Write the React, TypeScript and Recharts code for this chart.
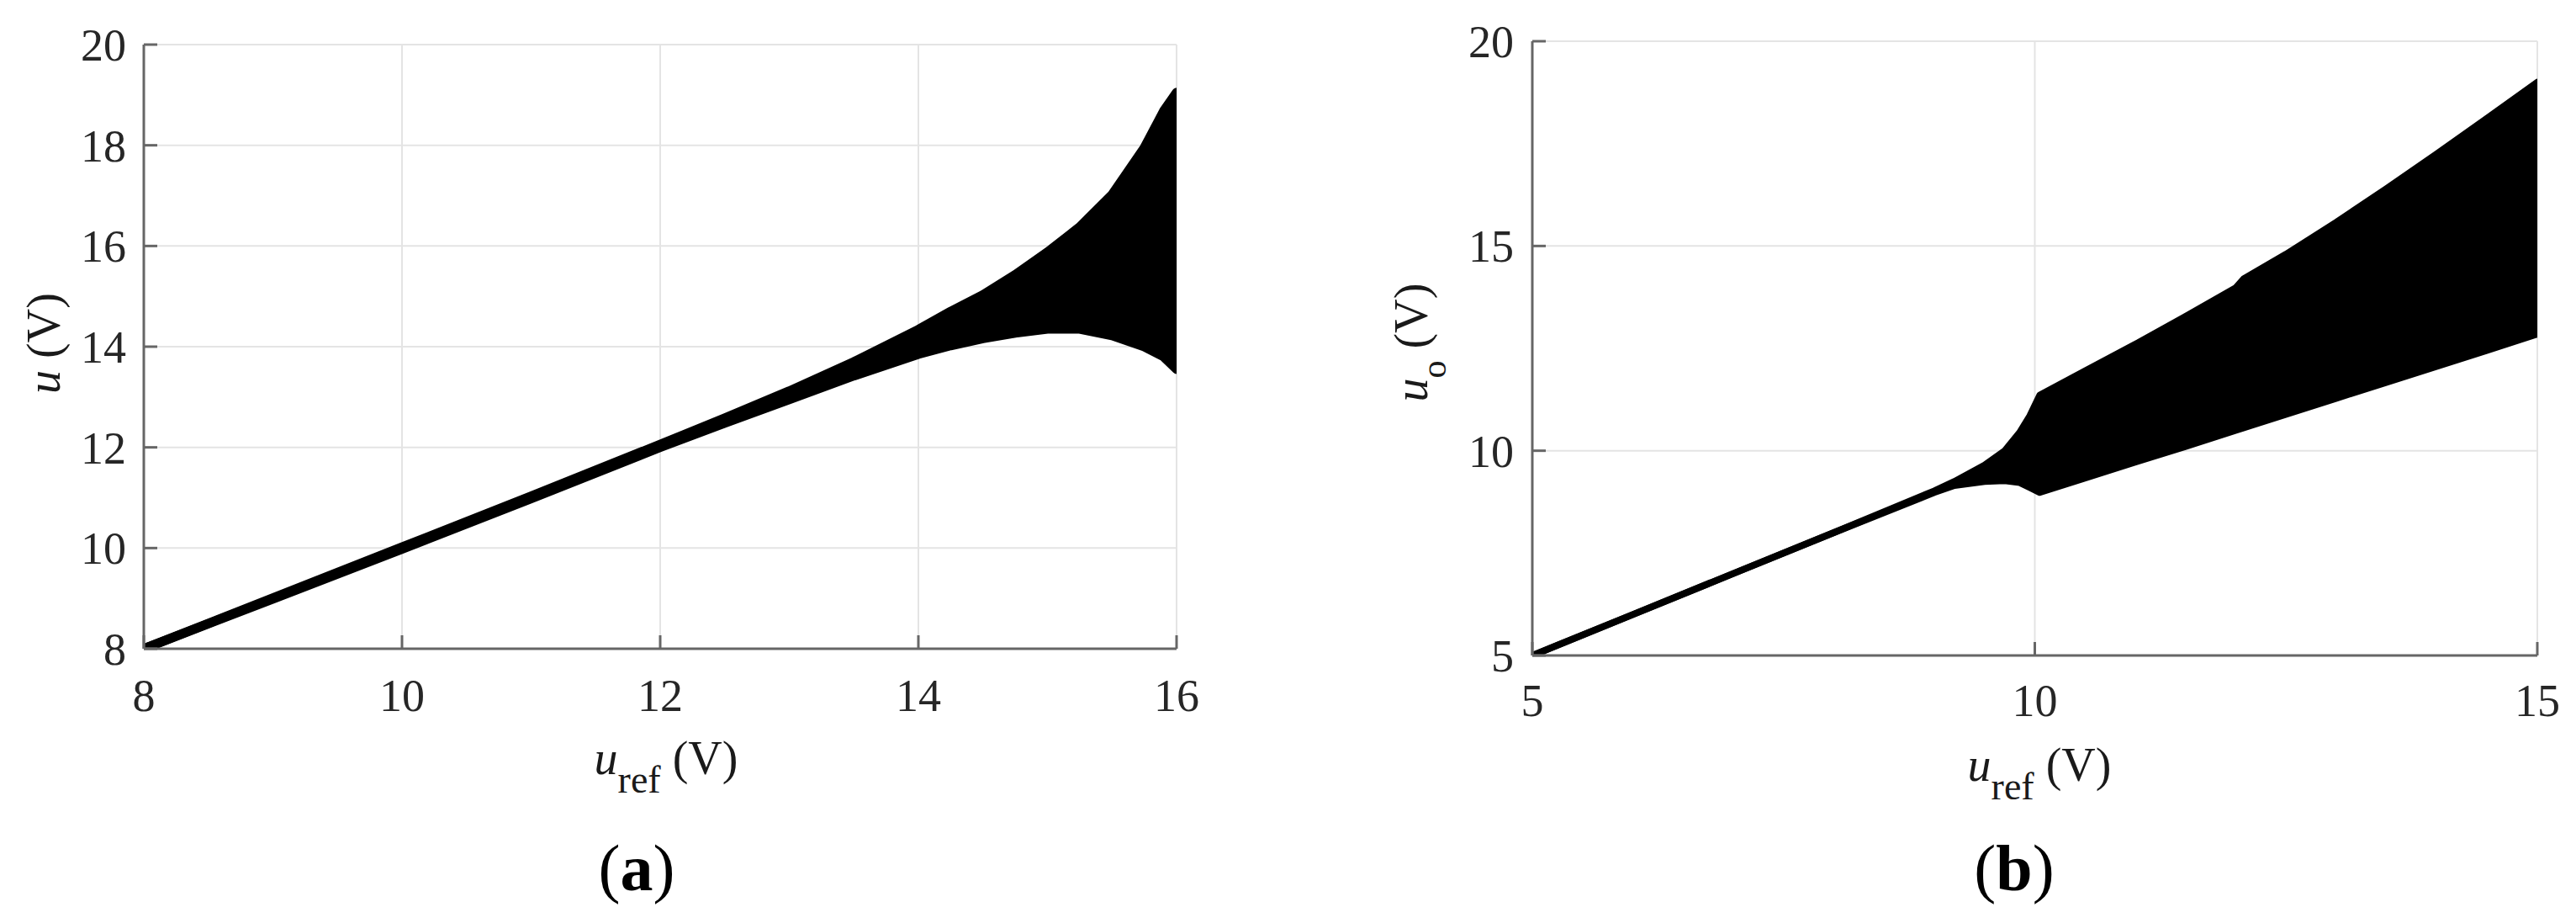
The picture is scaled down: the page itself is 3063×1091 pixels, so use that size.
import React from 'react';
import { ComposedChart, Area, XAxis, YAxis, CartesianGrid } from 'recharts';

const FONT = "'Liberation Serif', 'Times New Roman', serif";

// ---------- Panel (a): u vs u_ref ----------
const refA = [8, 9, 10, 11, 12, 12.5, 13, 13.5, 14, 14.25, 14.5, 14.75, 15, 15.25, 15.5, 15.75, 15.9, 16];
const upperA = [8, 9.01, 10.02, 11.03, 12.06, 12.58, 13.12, 13.7, 14.34, 14.7, 15.03, 15.43, 15.88, 16.38, 17.02, 17.95, 18.68, 19.05];
const lowerA = [8, 8.99, 9.98, 10.98, 12.0, 12.48, 12.95, 13.42, 13.85, 14.02, 14.16, 14.27, 14.35, 14.35, 14.22, 14.0, 13.8, 13.55];
const xTicksA = [8, 10, 12, 14, 16];
const yTicksA = [8, 10, 12, 14, 16, 18, 20];

// ---------- Panel (b): u_o vs u_ref ----------
const refB = [5, 6, 7, 8, 9, 9.2, 9.5, 9.7, 9.85, 9.95, 10.05, 10.5, 11, 11.5, 12, 12.08, 12.5, 13, 13.5, 14, 14.5, 15];
const upperB = [5, 6, 7, 8, 9.02, 9.25, 9.65, 10.0, 10.45, 10.85, 11.36, 11.95, 12.6, 13.28, 13.98, 14.2, 14.8, 15.58, 16.4, 17.25, 18.12, 19.0];
const lowerB = [5, 6, 7, 8, 8.98, 9.15, 9.25, 9.27, 9.22, 9.1, 8.98, 9.33, 9.72, 10.1, 10.5, 10.56, 10.89, 11.28, 11.67, 12.06, 12.45, 12.85];
const xTicksB = [5, 10, 15];
const yTicksB = [5, 10, 15, 20];

const dataA = refA.map((x, i) => ({ x, band: [lowerA[i], upperA[i]] }));
const dataB = refB.map((x, i) => ({ x, band: [lowerB[i], upperB[i]] }));

const AXIS = { stroke: '#666', strokeWidth: 3 };

function TickLabel(props: any) {
  const { x, y, payload, textAnchor, orientation } = props;
  const dy = orientation === 'bottom' ? 38 : 19;
  return (
    <text x={x} y={y} dy={dy} textAnchor={textAnchor} fill="#262626" fontSize={54} fontFamily={FONT}>
      {payload.value}
    </text>
  );
}

type PanelProps = {
  data: any[];
  xDomain: [number, number];
  yDomain: [number, number];
  xTicks: number[];
  yTicks: number[];
  width: number;
  height: number;
  margin: { top: number; right: number; bottom: number; left: number };
  yAxisWidth: number;
  xAxisHeight: number;
  xTickMargin: number;
  yTickMargin: number;
  bandStroke: number;
};

function Panel(p: PanelProps) {
  return (
    <ComposedChart width={p.width} height={p.height} data={p.data} margin={p.margin}>
      <CartesianGrid stroke="#e4e4e4" strokeWidth={2} />
      <XAxis
        dataKey="x"
        type="number"
        domain={p.xDomain}
        ticks={p.xTicks}
        interval={0}
        height={p.xAxisHeight}
        tickSize={-16}
        tickMargin={p.xTickMargin}
        tick={<TickLabel orientation="bottom" />}
        axisLine={AXIS}
        tickLine={AXIS}
        allowDataOverflow
      />
      <YAxis
        type="number"
        domain={p.yDomain}
        ticks={p.yTicks}
        interval={0}
        width={p.yAxisWidth}
        tickSize={-16}
        tickMargin={p.yTickMargin}
        tick={<TickLabel orientation="left" />}
        axisLine={AXIS}
        tickLine={AXIS}
        allowDataOverflow
      />
      <XAxis
        xAxisId="top"
        orientation="top"
        type="number"
        domain={p.xDomain}
        ticks={p.xTicks}
        interval={0}
        height={0}
        tickSize={-16}
        tick={false}
        axisLine={AXIS}
        tickLine={AXIS}
      />
      <YAxis
        yAxisId="right"
        orientation="right"
        type="number"
        domain={p.yDomain}
        ticks={p.yTicks}
        interval={0}
        width={0}
        tickSize={-16}
        tick={false}
        axisLine={AXIS}
        tickLine={AXIS}
      />
      <Area
        dataKey="band"
        type="linear"
        fill="#000"
        fillOpacity={1}
        stroke="#000"
        strokeWidth={p.bandStroke}
        strokeLinejoin="round"
        strokeLinecap="round"
        dot={false}
        activeDot={false}
        isAnimationActive={false}
      />
    </ComposedChart>
  );
}

export default function App() {
  return (
    <div style={{ position: 'absolute', left: 0, top: 0, width: 3063, height: 1091, background: '#fff', overflow: 'hidden', fontFamily: FONT }}>
      <div style={{ position: 'absolute', left: 0, top: 0 }}>
        <Panel
          data={dataA}
          xDomain={[8, 16]}
          yDomain={[8, 20]}
          xTicks={xTicksA}
          yTicks={yTicksA}
          width={1450}
          height={1091}
          margin={{ top: 53, right: 51, bottom: 0, left: 0 }}
          yAxisWidth={171}
          xAxisHeight={320}
          xTickMargin={52}
          yTickMargin={37}
          bandStroke={11}
        />
      </div>
      <div style={{ position: 'absolute', left: 1500, top: 0 }}>
        <Panel
          data={dataB}
          xDomain={[5, 15]}
          yDomain={[5, 20]}
          xTicks={xTicksB}
          yTicks={yTicksB}
          width={1563}
          height={1091}
          margin={{ top: 49, right: 46, bottom: 0, left: 0 }}
          yAxisWidth={322}
          xAxisHeight={312}
          xTickMargin={50}
          yTickMargin={38}
          bandStroke={8}
        />
      </div>
      <svg
        width={3063}
        height={1091}
        style={{ position: 'absolute', left: 0, top: 0, pointerEvents: 'none' }}
        fontFamily={FONT}
      >
        {/* y-axis titles */}
        <text x={71} y={408} transform="rotate(-90, 71, 408)" textAnchor="middle" fontSize={56} fill="#1a1a1a">
          <tspan fontStyle="italic">u</tspan>
          <tspan> (V)</tspan>
        </text>
        <text x={1697} y={407} transform="rotate(-90, 1697, 407)" textAnchor="middle" fontSize={56} fill="#1a1a1a">
          <tspan fontStyle="italic">u</tspan>
          <tspan fontSize={42} dy={22}>o</tspan>
          <tspan dy={-22}> (V)</tspan>
        </text>
        {/* x-axis titles */}
        <text x={792} y={920} textAnchor="middle" fontSize={56} fill="#1a1a1a">
          <tspan fontStyle="italic">u</tspan>
          <tspan fontSize={46} dy={22}>ref</tspan>
          <tspan dy={-22}> (V)</tspan>
        </text>
        <text x={2425} y={928} textAnchor="middle" fontSize={56} fill="#1a1a1a">
          <tspan fontStyle="italic">u</tspan>
          <tspan fontSize={46} dy={22}>ref</tspan>
          <tspan dy={-22}> (V)</tspan>
        </text>
        {/* panel tags */}
        <text x={757} y={1058} textAnchor="middle" fontSize={78} fill="#000">
          (<tspan fontWeight="bold">a</tspan>)
        </text>
        <text x={2395} y={1058} textAnchor="middle" fontSize={78} fill="#000">
          (<tspan fontWeight="bold">b</tspan>)
        </text>
      </svg>
    </div>
  );
}
